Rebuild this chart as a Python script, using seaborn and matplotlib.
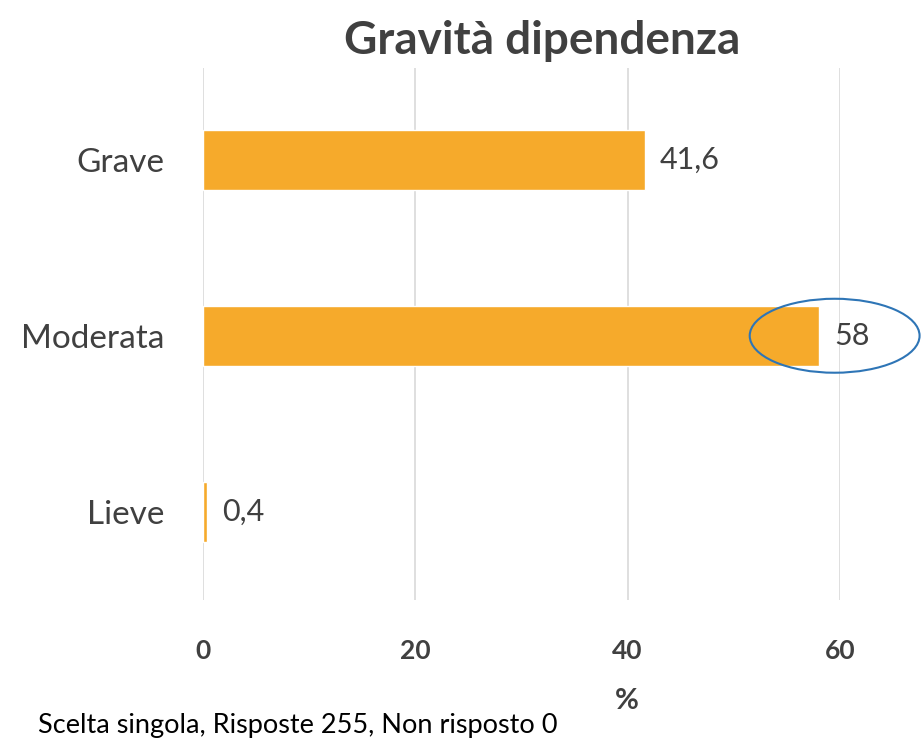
import pandas as pd
import matplotlib.pyplot as plt
import seaborn as sns
from matplotlib.patches import Ellipse

# data
categories = ['Grave', 'Moderata', 'Lieve']
values = [41.6, 58, 0.4]
value_labels = ['41,6', '58', '0,4']
x_ticks = [0, 20, 40, 60]

df = pd.DataFrame({'categoria': categories, 'valore': values})

sns.set_theme(style='white')
plt.rcParams['font.family'] = ['Lato', 'DejaVu Sans']
text_col = '#404040'

fig = plt.figure(figsize=(9.21, 7.48), dpi=100)
ax = fig.add_axes([0.2204, 0.198, 0.6916, 0.711])

sns.barplot(data=df, x='valore', y='categoria', orient='h', color='#F6AA2B',
            saturation=1, width=0.34, ax=ax, zorder=3)

ax.bar_label(ax.containers[0], labels=value_labels, padding=11,
             fontsize=22, color=text_col)

ax.set_xlim(0, 60)
ax.set_ylim(2.5, -0.52)
ax.set_xticks(x_ticks)
ax.set_xticklabels([str(t) for t in x_ticks], fontsize=19, fontweight='bold', color=text_col)
ax.tick_params(axis='x', length=0, pad=28)
ax.tick_params(axis='y', length=0, pad=28, labelsize=24, labelcolor=text_col)
ax.grid(axis='x', color='#D9D9D9', linewidth=1.2, zorder=0)
ax.grid(axis='y', visible=False)
for s in ax.spines.values():
    s.set_visible(False)

ax.set_ylabel('')
ax.set_xlabel('%', fontsize=21, fontweight='bold', color=text_col)
ax.xaxis.set_label_coords(0.666, -0.165)

title = ax.set_title('Gravità dipendenza', fontsize=33, fontweight='bold', color=text_col, pad=10)
title.set_x(0.532)

# blue ellipse highlighting the Moderata value
ax.add_patch(Ellipse((values[1] + 1.5, 1), width=16, height=0.42, fill=False,
                     edgecolor='#2E75B6', linewidth=1.5, clip_on=False, zorder=5))

fig.text(0.041, 0.02, 'Scelta singola, Risposte 255, Non risposto 0',
         fontsize=19.5, color='black')

plt.savefig('out.png', dpi=100)
plt.close()
